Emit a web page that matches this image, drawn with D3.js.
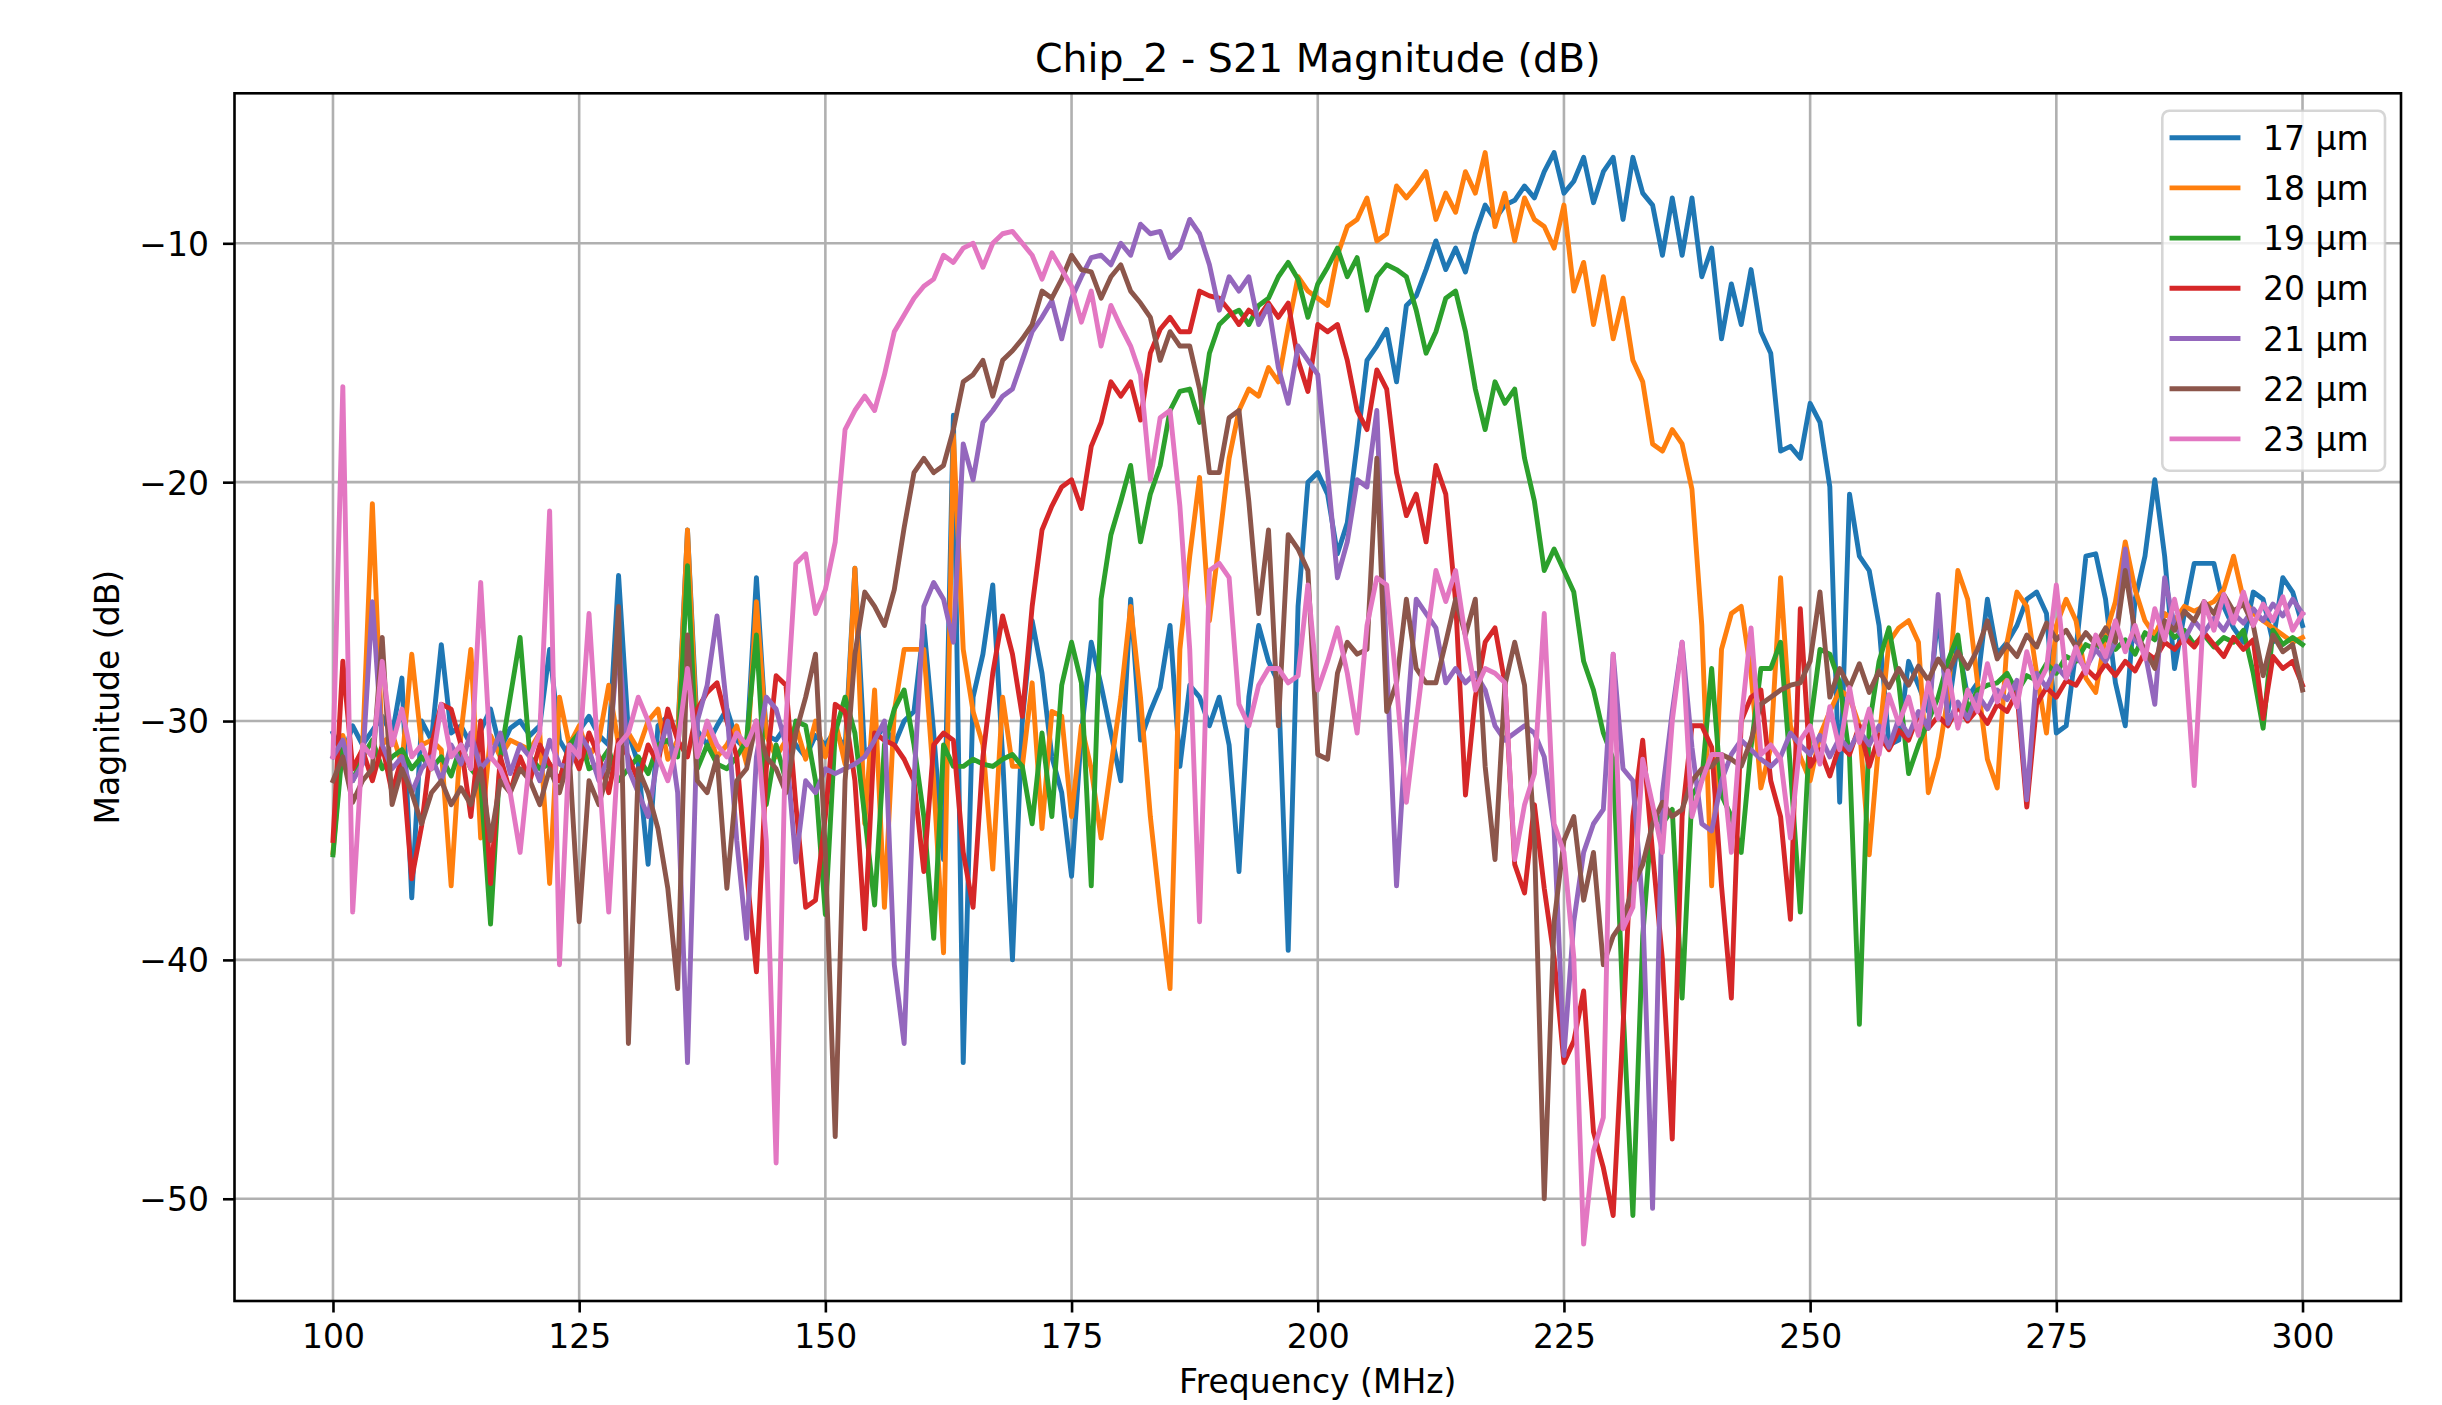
<!DOCTYPE html>
<html>
<head>
<meta charset="utf-8">
<script src="https://cdn.jsdelivr.net/npm/d3@7"></script>
<style>
html,body{margin:0;padding:0;background:#fff;}
svg{display:block;font-family:'DejaVu Sans',sans-serif;}
</style>
</head>
<body>
<svg id="chart" width="2442" height="1405"></svg>
<script>
/* ================================================================
   Chip_2 - S21 Magnitude (dB)  —  7 filter widths, 100..300 MHz sweep
   ================================================================ */

/* sweep: 1 MHz step, 201 points */
var freqMHz=d3.range(100,301,1);

var seriesNames=['17 µm','18 µm','19 µm','20 µm','21 µm','22 µm','23 µm'];
var seriesColors=['#1f77b4','#ff7f0e','#2ca02c','#d62728','#9467bd','#8c564b','#e377c2'];

var xTicks=[100,125,150,175,200,225,250,275,300];
var yTicks=[-50,-40,-30,-20,-10];

var s17=[
-30.5,-31.5,-30.2,-31.0,-30.4,-29.8,-30.6,-28.2,-37.4,-30.0,
-30.8,-26.8,-30.5,-30.2,-31.0,-30.4,-29.5,-31.2,-30.3,-30.0,
-30.6,-30.2,-27.0,-30.8,-31.5,-30.4,-29.8,-30.6,-31.0,-23.9,
-30.5,-31.8,-36.0,-30.2,-29.8,-30.6,-22.0,-30.4,-31.0,-30.2,
-29.5,-30.8,-31.2,-24.0,-30.6,-30.8,-30.2,-31.0,-31.5,-30.6,
-31.0,-30.4,-31.2,-23.6,-31.5,-30.8,-30.2,-31.0,-30.0,-29.6,
-26.0,-30.5,-35.8,-17.2,-44.3,-29.0,-27.2,-24.3,-31.5,-40.0,
-30.0,-25.8,-28.0,-31.5,-33.0,-36.5,-30.5,-26.7,-28.5,-30.5,
-32.5,-24.9,-30.8,-29.6,-28.6,-26.0,-31.9,-28.5,-29.0,-30.2,
-29.0,-31.0,-36.3,-29.0,-26.0,-27.5,-28.4,-39.6,-25.2,-20.0,
-19.6,-20.5,-23.0,-21.7,-18.4,-14.9,-14.3,-13.6,-15.8,-12.6,
-12.2,-11.1,-9.9,-11.1,-10.2,-11.2,-9.6,-8.4,-9.0,-8.4,
-8.2,-7.6,-8.1,-7.0,-6.2,-7.9,-7.4,-6.4,-8.3,-7.0,
-6.4,-9.0,-6.4,-7.9,-8.4,-10.5,-8.1,-10.5,-8.1,-11.4,
-10.2,-14.0,-11.7,-13.4,-11.1,-13.7,-14.6,-18.7,-18.5,-19.0,
-16.7,-17.5,-20.2,-33.4,-20.5,-23.1,-23.7,-26.0,-31.0,-30.8,
-27.5,-28.5,-29.6,-25.5,-29.6,-26.7,-29.0,-28.4,-24.9,-27.2,
-26.7,-26.0,-24.9,-24.6,-25.5,-30.5,-30.2,-27.0,-23.1,-23.0,
-24.9,-28.4,-30.2,-24.9,-23.1,-19.9,-23.1,-27.8,-25.5,-23.4,
-23.4,-23.4,-25.2,-26.1,-26.7,-24.6,-24.9,-26.7,-24.0,-24.6,
-26.0];

var s18=[
-35.5,-30.6,-32.0,-31.2,-20.9,-31.0,-30.5,-31.8,-27.2,-31.0,
-30.8,-31.2,-36.9,-30.5,-27.0,-34.9,-30.6,-31.5,-30.8,-31.0,
-31.2,-30.5,-36.8,-29.0,-31.0,-30.2,-31.5,-30.8,-28.5,-31.0,
-30.5,-31.2,-30.0,-29.5,-31.6,-30.8,-22.0,-31.0,-30.4,-31.5,
-31.0,-30.2,-31.8,-25.0,-30.6,-31.5,-30.8,-30.2,-31.6,-30.0,
-31.5,-30.0,-31.8,-23.6,-34.3,-28.7,-37.8,-29.6,-27.0,-27.0,
-27.0,-32.5,-39.7,-18.0,-27.0,-29.6,-31.0,-36.2,-29.0,-31.9,
-31.9,-28.4,-34.5,-29.6,-29.8,-34.0,-30.2,-32.0,-34.9,-31.9,
-29.0,-25.2,-29.0,-34.0,-37.8,-41.2,-27.0,-23.1,-19.8,-25.8,
-22.5,-19.0,-17.0,-16.1,-16.4,-15.2,-15.8,-13.5,-11.4,-12.0,
-12.3,-12.6,-10.5,-9.3,-9.0,-8.1,-9.9,-9.6,-7.6,-8.1,
-7.6,-7.0,-9.0,-7.9,-8.7,-7.0,-7.9,-6.2,-9.3,-7.9,
-9.9,-8.1,-9.0,-9.3,-10.2,-8.4,-12.0,-10.8,-13.4,-11.4,
-14.0,-12.3,-14.9,-15.8,-18.4,-18.7,-17.8,-18.4,-20.3,-26.0,
-36.9,-27.0,-25.5,-25.2,-28.0,-32.8,-31.1,-24.0,-30.2,-31.5,
-32.5,-30.6,-29.6,-28.7,-29.0,-30.2,-35.6,-30.8,-26.7,-26.1,
-25.8,-26.7,-33.0,-31.5,-29.0,-23.7,-24.9,-28.4,-31.6,-32.8,
-26.7,-24.6,-25.2,-28.0,-30.5,-26.0,-24.9,-25.8,-28.2,-28.8,
-26.4,-25.0,-22.5,-24.5,-25.8,-26.4,-25.5,-25.8,-25.2,-25.4,
-25.2,-25.0,-24.5,-23.1,-24.9,-25.5,-25.8,-26.1,-26.4,-26.7,
-26.5];

var s19=[
-35.6,-31.0,-32.5,-31.5,-30.8,-32.0,-31.5,-31.2,-32.0,-31.5,
-32.0,-31.5,-32.3,-31.0,-32.0,-32.5,-38.5,-31.5,-29.0,-26.5,
-31.5,-32.0,-31.8,-32.5,-31.0,-30.5,-32.0,-31.8,-31.2,-32.5,
-32.0,-31.5,-32.2,-31.0,-30.8,-31.5,-23.5,-32.0,-31.0,-31.8,
-32.0,-31.5,-30.8,-26.4,-33.5,-31.0,-32.5,-30.0,-30.2,-32.5,
-38.1,-30.5,-29.0,-30.5,-34.0,-37.7,-31.0,-29.5,-28.7,-31.0,
-34.0,-39.1,-31.0,-31.9,-31.9,-31.6,-31.8,-31.9,-31.6,-31.4,
-31.9,-34.3,-30.5,-34.0,-28.5,-26.7,-28.4,-36.9,-24.9,-22.2,
-20.8,-19.3,-22.5,-20.5,-19.3,-17.0,-16.2,-16.1,-17.5,-14.6,
-13.4,-13.0,-12.8,-13.4,-12.6,-12.3,-11.4,-10.8,-11.5,-13.1,
-11.7,-11.0,-10.2,-11.4,-10.6,-12.8,-11.4,-10.9,-11.1,-11.4,
-12.8,-14.6,-13.7,-12.3,-12.0,-13.7,-16.1,-17.8,-15.8,-16.7,
-16.1,-19.0,-20.8,-23.7,-22.8,-23.7,-24.6,-27.5,-28.7,-30.5,
-31.6,-42.0,-50.7,-39.0,-33.7,-34.3,-33.7,-41.6,-33.1,-32.5,
-27.8,-33.1,-34.0,-35.5,-31.1,-27.8,-27.8,-26.7,-32.0,-38.0,
-30.2,-27.0,-27.2,-28.4,-31.5,-42.7,-30.2,-27.5,-26.1,-28.4,
-32.2,-31.0,-30.0,-29.0,-27.5,-26.4,-29.6,-28.7,-28.5,-28.4,
-28.0,-28.8,-28.1,-28.3,-27.6,-28.0,-27.3,-27.5,-26.8,-27.0,
-26.5,-27.0,-26.6,-27.2,-26.3,-26.6,-26.0,-26.5,-26.2,-26.8,
-26.4,-26.9,-26.5,-26.7,-26.2,-28.0,-30.3,-26.2,-26.8,-26.5,
-26.8];

var s20=[
-35.0,-27.5,-32.0,-31.2,-32.5,-31.0,-33.0,-31.5,-36.6,-34.4,
-31.0,-29.3,-29.5,-31.0,-34.0,-30.0,-36.8,-31.5,-33.0,-31.5,
-32.5,-31.0,-31.8,-32.5,-31.0,-32.0,-30.5,-31.5,-33.0,-30.8,
-31.5,-32.5,-31.0,-31.8,-29.5,-30.8,-31.5,-29.5,-28.8,-28.4,
-30.0,-31.5,-36.3,-40.5,-32.0,-28.1,-28.5,-33.5,-37.8,-37.5,
-34.0,-29.3,-29.6,-32.5,-38.7,-30.5,-30.8,-31.0,-31.6,-32.5,
-36.3,-31.0,-30.5,-30.8,-35.5,-37.8,-31.5,-28.0,-25.6,-27.2,
-29.8,-25.2,-22.0,-21.0,-20.2,-19.9,-21.1,-18.5,-17.5,-15.8,
-16.4,-15.8,-17.4,-14.6,-13.6,-13.1,-13.7,-13.7,-12.0,-12.2,
-12.3,-12.8,-13.4,-12.8,-13.1,-12.5,-13.1,-12.5,-14.9,-16.2,
-13.4,-13.7,-13.4,-14.9,-17.0,-17.8,-15.3,-16.1,-19.6,-21.4,
-20.5,-22.5,-19.3,-20.5,-25.0,-33.1,-29.0,-26.7,-26.1,-28.4,
-36.0,-37.2,-33.5,-37.0,-39.9,-44.3,-43.4,-41.3,-47.2,-48.7,
-50.7,-42.8,-34.0,-30.8,-35.5,-40.0,-47.5,-34.0,-30.2,-30.2,
-31.1,-36.9,-41.6,-30.0,-29.0,-28.7,-32.5,-34.0,-38.3,-25.3,
-31.9,-31.2,-32.3,-31.0,-31.4,-30.2,-31.9,-30.6,-31.2,-30.4,
-30.8,-29.7,-30.3,-29.8,-30.2,-29.4,-30.0,-29.5,-30.1,-29.3,
-29.6,-28.8,-33.6,-29.3,-28.6,-29.0,-28.3,-28.5,-27.8,-28.2,
-27.6,-28.1,-27.5,-27.9,-27.1,-27.4,-26.7,-27.0,-26.5,-26.9,
-26.3,-26.8,-27.3,-26.5,-27.0,-26.6,-29.9,-27.3,-27.8,-27.5,
-28.5];

var s21=[
-31.5,-30.8,-32.5,-31.8,-25.0,-31.0,-32.0,-31.5,-33.0,-32.0,
-31.5,-32.5,-31.0,-31.8,-30.5,-32.0,-31.5,-30.5,-32.2,-31.0,
-31.5,-32.5,-30.8,-31.8,-32.0,-30.5,-31.2,-32.5,-31.5,-26.5,
-32.0,-33.0,-34.0,-31.5,-30.0,-33.0,-44.3,-30.0,-28.5,-25.6,
-29.5,-35.0,-39.1,-31.5,-29.0,-29.5,-31.0,-35.9,-32.5,-33.0,
-32.0,-32.2,-32.0,-31.8,-31.5,-30.8,-30.0,-40.2,-43.5,-32.5,
-25.2,-24.2,-24.9,-26.7,-18.4,-19.9,-17.5,-17.0,-16.4,-16.1,
-14.9,-13.7,-13.1,-12.4,-14.0,-12.3,-11.4,-10.6,-10.5,-10.9,
-10.0,-10.5,-9.2,-9.6,-9.5,-10.6,-10.2,-9.0,-9.6,-10.9,
-12.8,-11.4,-12.0,-11.4,-13.4,-12.6,-15.2,-16.7,-14.3,-14.9,
-15.5,-19.6,-24.0,-22.5,-19.9,-20.2,-17.0,-27.5,-36.9,-30.2,
-24.9,-25.5,-26.1,-28.4,-27.8,-28.4,-28.0,-28.7,-30.2,-30.8,
-30.5,-30.2,-30.5,-31.5,-34.5,-44.0,-38.4,-35.5,-34.3,-33.7,
-27.2,-32.0,-32.5,-37.8,-50.4,-33.0,-29.6,-26.7,-31.1,-34.3,
-34.6,-32.5,-31.4,-30.8,-31.2,-31.6,-31.9,-31.5,-30.5,-31.0,
-31.4,-30.6,-31.5,-30.7,-31.2,-30.4,-31.0,-30.2,-31.1,-29.9,
-30.6,-29.6,-30.3,-24.7,-30.1,-29.2,-29.9,-28.9,-29.5,-28.7,
-29.1,-28.3,-33.3,-28.0,-28.6,-27.7,-28.2,-27.3,-27.8,-27.0,
-27.5,-26.7,-22.8,-26.6,-27.1,-29.3,-24.0,-26.0,-26.6,-25.8,
-26.3,-25.7,-26.2,-25.5,-25.9,-25.3,-25.8,-25.1,-25.6,-24.9,
-25.5];

var s22=[
-32.5,-31.5,-33.4,-32.5,-32.0,-26.5,-33.5,-32.0,-33.0,-34.3,
-33.0,-32.5,-33.5,-32.8,-33.5,-32.0,-35.0,-32.5,-33.0,-32.0,
-32.5,-33.5,-32.0,-33.0,-31.5,-38.4,-32.5,-33.5,-32.0,-25.2,
-43.5,-32.0,-33.0,-34.5,-37.0,-41.2,-26.4,-32.5,-33.0,-31.5,
-37.0,-32.5,-32.0,-30.0,-31.5,-32.0,-33.0,-30.5,-29.0,-27.2,
-35.5,-47.4,-32.5,-27.2,-24.6,-25.2,-26.0,-24.5,-21.9,-19.6,
-19.0,-19.6,-19.3,-17.8,-15.8,-15.5,-14.9,-16.4,-14.9,-14.5,
-14.0,-13.4,-12.0,-12.3,-11.5,-10.5,-11.1,-11.2,-12.3,-11.4,
-10.9,-12.0,-12.5,-13.1,-14.9,-13.7,-14.3,-14.3,-16.1,-19.6,
-19.6,-17.3,-17.0,-20.8,-25.5,-22.0,-30.2,-22.2,-22.8,-23.7,
-31.4,-31.6,-28.0,-26.7,-27.2,-27.0,-19.0,-29.6,-28.4,-24.9,
-27.8,-28.4,-28.4,-26.7,-24.9,-26.4,-24.9,-31.9,-35.8,-28.5,
-26.7,-28.5,-34.9,-50.0,-38.4,-35.0,-34.0,-37.5,-35.5,-40.2,
-39.0,-38.4,-36.9,-36.0,-34.3,-33.4,-34.0,-33.7,-32.5,-32.0,
-31.9,-31.4,-31.6,-31.9,-30.8,-29.3,-29.0,-28.7,-28.5,-28.4,
-27.5,-24.6,-29.0,-27.8,-28.6,-27.6,-28.8,-27.9,-28.6,-27.8,
-28.5,-27.7,-28.3,-27.4,-28.0,-27.1,-27.8,-27.0,-25.8,-27.4,
-26.8,-27.3,-26.4,-26.9,-25.9,-26.6,-26.2,-26.9,-26.3,-26.8,
-26.1,-26.7,-23.7,-26.3,-27.0,-27.8,-25.8,-26.2,-25.4,-25.8,
-25.0,-25.5,-24.7,-25.4,-25.1,-26.0,-28.1,-26.4,-27.1,-26.8,
-28.7];

var s23=[
-31.5,-16.0,-38.0,-31.0,-31.5,-27.5,-31.0,-29.5,-31.5,-31.0,
-32.0,-29.3,-31.5,-31.0,-32.0,-24.2,-31.5,-32.0,-33.0,-35.5,
-31.5,-30.5,-21.2,-40.2,-31.0,-31.5,-25.5,-32.0,-38.0,-31.0,
-30.5,-29.0,-30.0,-31.5,-32.5,-31.0,-27.8,-31.5,-30.0,-31.0,
-31.5,-30.5,-31.0,-30.0,-35.0,-48.5,-30.0,-23.4,-23.0,-25.5,
-24.5,-22.5,-17.8,-17.0,-16.4,-17.0,-15.5,-13.7,-13.0,-12.3,
-11.8,-11.5,-10.5,-10.8,-10.2,-10.0,-11.0,-10.0,-9.6,-9.5,
-10.0,-10.5,-11.5,-10.4,-11.1,-11.8,-13.3,-12.0,-14.3,-12.6,
-13.5,-14.3,-15.5,-19.9,-17.3,-17.0,-21.0,-27.0,-38.4,-23.7,
-23.4,-24.0,-29.3,-30.2,-28.5,-27.8,-27.8,-28.4,-28.1,-24.3,
-28.7,-27.5,-26.1,-28.0,-30.5,-26.0,-24.0,-24.3,-28.5,-33.4,
-30.0,-26.7,-23.7,-25.0,-23.7,-26.5,-28.7,-27.8,-28.0,-28.4,
-35.8,-33.5,-32.2,-25.5,-34.3,-35.5,-39.9,-51.9,-48.0,-46.6,
-27.2,-38.7,-37.8,-31.6,-33.5,-35.5,-30.0,-26.7,-34.0,-32.5,
-31.4,-31.4,-35.5,-30.0,-26.1,-31.4,-31.0,-31.6,-34.9,-30.8,
-30.2,-31.8,-29.4,-31.2,-28.6,-30.9,-29.5,-31.4,-28.9,-30.1,
-29.0,-30.6,-28.4,-29.9,-27.9,-30.3,-28.7,-29.6,-27.6,-29.2,
-28.3,-29.4,-27.1,-28.6,-27.8,-24.3,-28.2,-26.9,-28.0,-26.4,
-27.3,-25.8,-27.1,-26.0,-27.4,-25.3,-26.6,-24.9,-26.8,-32.7,
-25.0,-26.2,-24.7,-25.9,-24.6,-26.0,-25.1,-25.8,-24.8,-26.2,
-25.5];

var seriesData=[s17,s18,s19,s20,s21,s22,s23];

/* ── Layout (matches the axes box of the reference) ── */
var W=2442, H=1405;
var PL=234.5, PR=2401, PT=93.3, PB=1301;
var FS=33, LW=4.9, GW=2.6;

var svg=d3.select('#chart');
svg.append('rect').attr('width',W).attr('height',H).attr('fill','#fff');

var x=d3.scaleLinear().domain([90,310]).range([PL,PR]);
var y=d3.scaleLinear().domain([-54.28,-3.72]).range([PB,PT]);

function fmtTick(d){return d<0?'\u2212'+Math.abs(d):''+d;}

/* ── Grid ── */
var grid=svg.append('g');
xTicks.forEach(function(t){
  grid.append('line').attr('x1',x(t)).attr('x2',x(t)).attr('y1',PT).attr('y2',PB)
    .attr('stroke','#b0b0b0').attr('stroke-width',GW);
});
yTicks.forEach(function(t){
  grid.append('line').attr('x1',PL).attr('x2',PR).attr('y1',y(t)).attr('y2',y(t))
    .attr('stroke','#b0b0b0').attr('stroke-width',GW);
});

/* ── Data lines ── */
svg.append('clipPath').attr('id','plotClip').append('rect')
  .attr('x',PL).attr('y',PT).attr('width',PR-PL).attr('height',PB-PT);

var line=d3.line()
  .x(function(d,i){return x(freqMHz[i]);})
  .y(function(d){return y(d);});

var plot=svg.append('g').attr('clip-path','url(#plotClip)');
seriesData.forEach(function(vals,k){
  plot.append('path').datum(vals)
    .attr('d',line)
    .attr('fill','none')
    .attr('stroke',seriesColors[k])
    .attr('stroke-width',LW)
    .attr('stroke-linejoin','round')
    .attr('stroke-linecap','square');
});

/* ── Axes ── */
var xAx=svg.append('g').attr('transform','translate(0,'+PB+')')
  .call(d3.axisBottom(x).tickValues(xTicks).tickSize(11.5).tickPadding(12).tickFormat(fmtTick));
var yAx=svg.append('g').attr('transform','translate('+PL+',0)')
  .call(d3.axisLeft(y).tickValues(yTicks).tickSize(11.5).tickPadding(14).tickFormat(fmtTick));
[xAx,yAx].forEach(function(g){
  g.select('.domain').remove();
  g.selectAll('.tick line').attr('stroke','#000').attr('stroke-width',GW);
  g.selectAll('.tick text').attr('fill','#000').attr('font-size',FS+'px')
    .attr('font-family','DejaVu Sans,sans-serif');
});
yAx.selectAll('.tick text').attr('dy','0.36em');

/* frame */
svg.append('rect').attr('x',PL).attr('y',PT).attr('width',PR-PL).attr('height',PB-PT)
  .attr('fill','none').attr('stroke','#000').attr('stroke-width',GW);

/* ── Labels ── */
svg.append('text').attr('x',(PL+PR)/2).attr('y',72).attr('text-anchor','middle')
  .attr('font-size','39.5px').attr('fill','#000').text('Chip_2 - S21 Magnitude (dB)');
svg.append('text').attr('x',(PL+PR)/2).attr('y',1393).attr('text-anchor','middle')
  .attr('font-size',FS+'px').attr('fill','#000').text('Frequency (MHz)');
svg.append('text').attr('transform','translate(118.5,'+((PT+PB)/2)+') rotate(-90)')
  .attr('text-anchor','middle').attr('font-size',FS+'px').attr('fill','#000').text('Magnitude (dB)');

/* ── Legend ── */
var lg=svg.append('g');
lg.append('rect').attr('x',2162.3).attr('y',110.7).attr('width',222.7).attr('height',360)
  .attr('rx',7).attr('fill','#fff').attr('fill-opacity',0.8)
  .attr('stroke','#cccccc').attr('stroke-opacity',0.8).attr('stroke-width',GW);
seriesNames.forEach(function(name,k){
  var ry=137.7+50.2*k;
  lg.append('line').attr('x1',2172).attr('x2',2238).attr('y1',ry).attr('y2',ry)
    .attr('stroke',seriesColors[k]).attr('stroke-width',LW).attr('stroke-linecap','square');
  lg.append('text').attr('x',2263).attr('y',ry+12).attr('font-size',FS+'px')
    .attr('fill','#000').text(name);
});
</script>
</body>
</html>
